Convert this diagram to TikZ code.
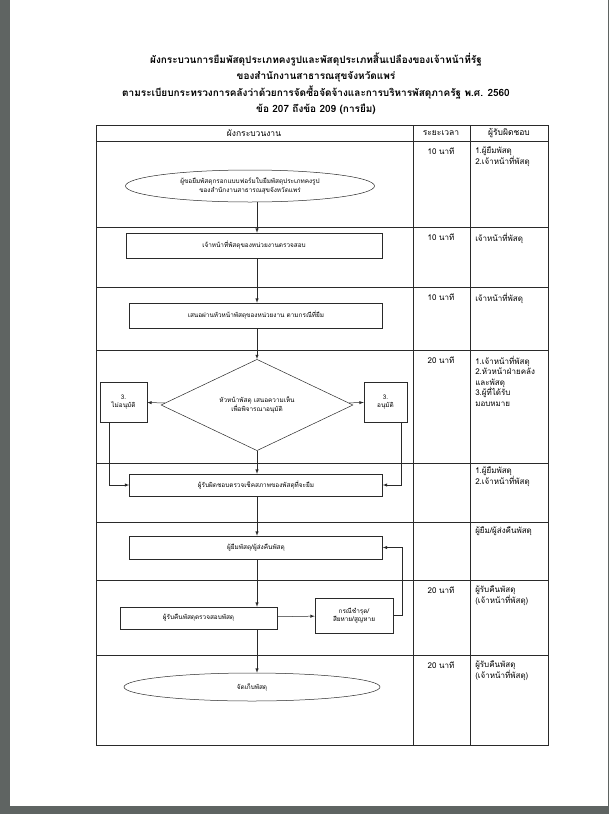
\documentclass[tikz,border=0pt]{standalone}
\usepackage{fontspec}
\newfontfamily\thaifont[Script=Thai]{Loma}
\usetikzlibrary{shapes.geometric,positioning,arrows}
\definecolor{scan}{HTML}{5F6462}
\definecolor{ink}{HTML}{2A2A2A}

\begin{document}
\begin{tikzpicture}[
    x=1pt, y=-1pt,
    line width=0.5pt, draw=ink,
    block/.style={rectangle, draw, minimum height=22pt, align=center, inner sep=1pt,
        font=\thaifont\fontsize{6.4}{8.5}\selectfont},
    oval/.style={ellipse, draw, align=center, inner sep=0pt,
        font=\thaifont\fontsize{6.4}{8.5}\selectfont},
    choice/.style={diamond, draw, align=center, inner sep=0pt,
        minimum width=192pt, minimum height=86pt, font=\thaifont\fontsize{6.4}{8.5}\selectfont},
    head/.style={font=\thaifont\fontsize{8.5}{10}\selectfont, inner sep=0pt},
    cell/.style={anchor=north west, align=left, inner sep=0pt,
        font=\thaifont\fontsize{8}{10.5}\selectfont},
    time/.style={anchor=north, inner sep=0pt, font=\thaifont\fontsize{8}{10}\selectfont},
    arrow/.style={-latex}
]
    \useasboundingbox (0,0) rectangle (609,814);
    % scanned page edges
    \fill[scan] (0,0) rectangle (10,814);
    \fill[scan] (0,806) rectangle (609,814);
    \fill[scan] (607.5,0) rectangle (609,814);

    % title
    \node[align=center, inner sep=0pt, font=\thaifont\bfseries\fontsize{10}{16.5}\selectfont] (title) at (316,84)
        {ผังกระบวนการยืมพัสดุประเภทคงรูปและพัสดุประเภทสิ้นเปลืองของเจ้าหน้าที่รัฐ\\
         ของสำนักงานสาธารณสุขจังหวัดแพร่\\
         ตามระเบียบกระทรวงการคลังว่าด้วยการจัดซื้อจัดจ้างและการบริหารพัสดุภาครัฐ พ.ศ. 2560\\
         ข้อ 207 ถึงข้อ 209 (การยืม)};

    % table
    \draw (96,125) rectangle (548,745);
    \foreach \y in {141,227,287,350,463,522,580,655}
        \draw (96,\y) -- (548,\y);
    \draw (413,125) -- (413,745);
    \draw (470,125) -- (470,745);

    \node[head] (h1) at (254,133) {ผังกระบวนงาน};
    \node[head] (h2) at (441,133) {ระยะเวลา};
    \node[head] (h3) at (509,133) {ผู้รับผิดชอบ};

    % flow
    \node[oval, minimum width=249pt, minimum height=32pt] (start) at (250,186)
        {ผู้ขอยืมพัสดุกรอกแบบฟอร์มใบยืมพัสดุประเภทคงรูป\\ของสำนักงานสาธารณสุขจังหวัดแพร่};
    \node[block, minimum width=256pt, minimum height=25pt] (verify) at (254,245.5)
        {เจ้าหน้าที่พัสดุของหน่วยงานตรวจสอบ};
    \node[block, minimum width=253pt, minimum height=25pt] (propose) at (256,315.5)
        {เสนอผ่านหัวหน้าพัสดุของหน่วยงาน ตามกรณีที่ยืม};
    \node[choice] (decide) at (257,405) {หัวหน้าพัสดุ เสนอความเห็น\\เพื่อพิจารณาอนุมัติ};
    \node[block, minimum width=47pt, minimum height=40pt] (reject) at (123.5,402) {3.\\ไม่อนุมัติ};
    \node[block, minimum width=43pt, minimum height=40pt] (approve) at (385.5,402) {3.\\อนุมัติ};
    \node[block, minimum width=253pt] (inspect) at (256,485)
        {ผู้รับผิดชอบตรวจเช็คสภาพของพัสดุที่จะยืม};
    \node[block, minimum width=253pt, minimum height=23pt] (borrow) at (256,547.5)
        {ผู้ยืมพัสดุ/ผู้ส่งคืนพัสดุ};
    \node[block, minimum width=157pt] (receive) at (198.5,618) {ผู้รับคืนพัสดุตรวจสอบพัสดุ};
    \node[block, minimum width=78pt, minimum height=35pt] (damage) at (354,615.5)
        {กรณีชำรุด/\\สียหาย/สูญหาย};
    \node[oval, minimum width=256pt, minimum height=28pt] (store) at (252,687) {จัดเก็บพัสดุ};

    \draw[arrow] (start.south -| decide) -- (verify.north -| decide);
    \draw[arrow] (verify.south -| decide) -- (propose.north -| decide);
    \draw[arrow] (propose.south -| decide) -- (decide);
    \draw[arrow] (decide) -- (reject);
    \draw[arrow] (decide) -- (approve);
    \draw[arrow] ([xshift=-14.5pt]reject.south) |- (inspect.west);
    \draw[arrow] ([xshift=15.5pt]approve.south) |- (inspect.east);
    \draw[arrow] (decide) -- (inspect.north -| decide);
    \draw[arrow] (inspect.south -| decide) -- (borrow.north -| decide);
    \draw[arrow] (borrow.south -| decide) -- (receive.north -| decide);
    \draw[arrow] (receive) -- (damage);
    \draw[arrow] (damage.east) -- ++(9,0) |- (borrow.east);
    \draw[arrow] (receive.south -| decide) -- (store.north -| decide);

    % time column
    \node[time] (t1) at (441,147) {10 นาที};
    \node[time] (t2) at (441,233) {10 นาที};
    \node[time] (t3) at (441,293) {10 นาที};
    \node[time] (t4) at (441,356) {20 นาที};
    \node[time] (t7) at (441,586) {20 นาที};
    \node[time] (t8) at (441,661) {20 นาที};

    % responsible column
    \node[cell] (r1) at (475,147) {1.ผู้ยืมพัสดุ\\2.เจ้าหน้าที่พัสดุ};
    \node[cell] (r2) at (475,233) {เจ้าหน้าที่พัสดุ};
    \node[cell] (r3) at (475,293) {เจ้าหน้าที่พัสดุ};
    \node[cell] (r4) at (475,356) {1.เจ้าหน้าที่พัสดุ\\2.หัวหน้าฝ่ายคลัง\\และพัสดุ\\3.ผู้ที่ได้รับ\\มอบหมาย};
    \node[cell] (r5) at (475,467) {1.ผู้ยืมพัสดุ\\2.เจ้าหน้าที่พัสดุ};
    \node[cell] (r6) at (475,527) {ผู้ยืม/ผู้ส่งคืนพัสดุ};
    \node[cell] (r7) at (475,586) {ผู้รับคืนพัสดุ\\(เจ้าหน้าที่พัสดุ)};
    \node[cell] (r8) at (475,661) {ผู้รับคืนพัสดุ\\(เจ้าหน้าที่พัสดุ)};
\end{tikzpicture}
\end{document}
